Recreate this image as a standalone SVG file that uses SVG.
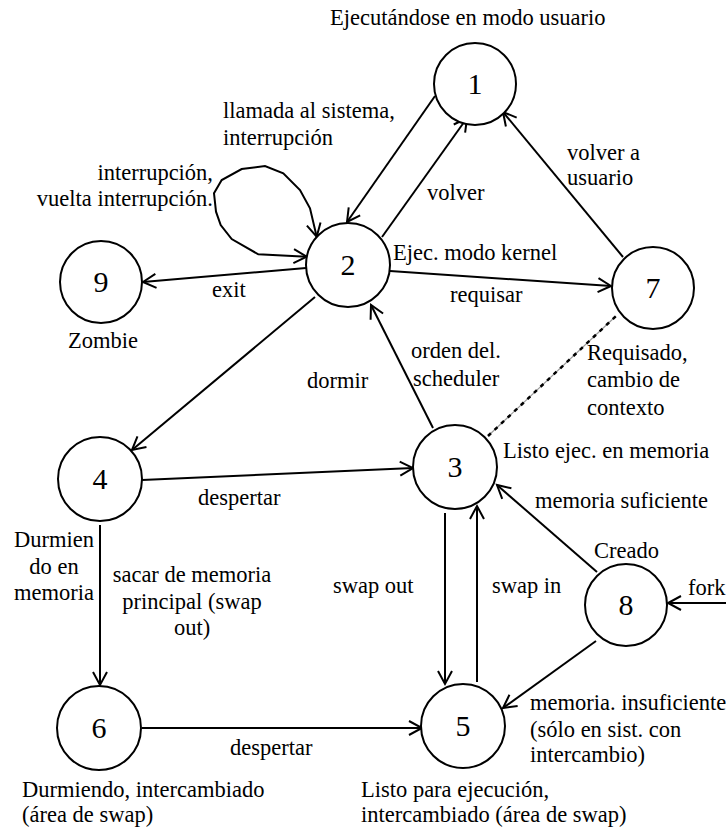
<svg xmlns="http://www.w3.org/2000/svg" width="726" height="828" viewBox="0 0 726 828">
  <style>
    .node circle { fill: #ffffff; stroke: #000000; stroke-width: 2; }
    .node text { font-family: "Liberation Serif", "Times New Roman", serif; font-size: 30px; text-anchor: middle; fill: #000000; }
    .lbl { font-family: "Liberation Serif", "Times New Roman", serif; font-size: 22.5px; fill: #000000; }
    .mid { text-anchor: middle; }
    .end { text-anchor: end; }
    .edge { fill: none; stroke: #000000; stroke-width: 2; marker-end: url(#arrow); }
  </style>
  <defs>
    <marker id="arrow" viewBox="0 0 14 16" refX="13" refY="8" markerWidth="14" markerHeight="16" markerUnits="userSpaceOnUse" orient="auto-start-reverse" overflow="visible">
      <path d="M0,1 L13,8 L0,15" fill="none" stroke="#000000" stroke-width="2"/>
    </marker>
  </defs>

  <rect width="726" height="828" fill="#ffffff"/>

  <!-- transitions -->
  <g id="connectors">
    <line class="edge" x1="435" y1="96" x2="347" y2="222"/>
    <line class="edge" x1="382" y1="237" x2="467" y2="118"/>
    <line class="edge" x1="623" y1="257" x2="503" y2="112"/>
    <polyline class="edge" style="marker-start: url(#arrow)" points="306.7,256.7 258.3,254.3 231.7,239 220.7,225 216,211.7 214,193.3 221.7,180 241.7,169 265,166 283.3,173.3 300,190 310,208.3 316.7,236.7"/>
    <line class="edge" x1="306" y1="268" x2="143" y2="282"/>
    <line class="edge" x1="390" y1="271" x2="611" y2="286"/>
    <line class="edge" x1="315" y1="297" x2="132" y2="450"/>
    <line class="edge" x1="433" y1="428" x2="371" y2="305"/>
    <!-- dotted context switch line 3 - 7 -->
    <line x1="488" y1="436" x2="616" y2="316" stroke="#9a9a9a" stroke-width="1.2"/>
    <line x1="488" y1="436" x2="616" y2="316" stroke="#000000" stroke-width="2.5" stroke-dasharray="4 5"/>
    <line class="edge" x1="142" y1="480" x2="413" y2="468"/>
    <line class="edge" x1="100" y1="525" x2="100" y2="685"/>
    <line class="edge" x1="445" y1="513" x2="445" y2="684"/>
    <line class="edge" x1="477" y1="682" x2="477" y2="506"/>
    <line class="edge" x1="142" y1="728" x2="422" y2="728"/>
    <line class="edge" x1="597" y1="572" x2="497" y2="485"/>
    <line class="edge" x1="596" y1="641" x2="503" y2="708"/>
    <line class="edge" x1="726" y1="603" x2="668" y2="603"/>
  </g>

  <!-- states -->
  <g id="n1" class="node"><circle cx="475" cy="84" r="41"/><text x="475" y="94">1</text></g>
  <g id="n2" class="node"><circle cx="348" cy="265" r="42"/><text x="348" y="275">2</text></g>
  <g id="n9" class="node"><circle cx="101" cy="282" r="41"/><text x="101" y="292">9</text></g>
  <g id="n7" class="node"><circle cx="653" cy="288" r="41"/><text x="653" y="298">7</text></g>
  <g id="n3" class="node"><circle cx="455" cy="467" r="42"/><text x="455" y="477">3</text></g>
  <g id="n4" class="node"><circle cx="100" cy="479" r="42"/><text x="100" y="489">4</text></g>
  <g id="n8" class="node"><circle cx="626" cy="605" r="41"/><text x="626" y="615">8</text></g>
  <g id="n6" class="node"><circle cx="99" cy="728" r="42"/><text x="99" y="738">6</text></g>
  <g id="n5" class="node"><circle cx="463" cy="726" r="42"/><text x="463" y="736">5</text></g>

  <!-- labels -->
  <g id="labels">
    <text class="lbl" x="330" y="25">Ejecutándose en modo usuario</text>
    <text class="lbl" x="223" y="118">llamada al sistema,</text>
    <text class="lbl" x="223" y="145">interrupción</text>
    <text class="lbl" x="427" y="200">volver</text>
    <text class="lbl end" x="213" y="180">interrupción,</text>
    <text class="lbl end" x="213" y="206">vuelta interrupción.</text>
    <text class="lbl" x="212" y="297">exit</text>
    <text class="lbl" x="68" y="348">Zombie</text>
    <text class="lbl" x="393" y="260">Ejec. modo kernel</text>
    <text class="lbl" x="450" y="302">requisar</text>
    <text class="lbl" x="567" y="160">volver a</text>
    <text class="lbl" x="567" y="185">usuario</text>
    <text class="lbl" x="411" y="358">orden del.</text>
    <text class="lbl" x="413" y="386">scheduler</text>
    <text class="lbl" x="587" y="360">Requisado,</text>
    <text class="lbl" x="587" y="387">cambio de</text>
    <text class="lbl" x="587" y="415">contexto</text>
    <text class="lbl" x="307" y="388">dormir</text>
    <text class="lbl" x="503" y="458">Listo ejec. en memoria</text>
    <text class="lbl" x="535" y="508">memoria suficiente</text>
    <text class="lbl" x="594" y="558">Creado</text>
    <text class="lbl" x="492" y="593">swap in</text>
    <text class="lbl" x="688" y="595">fork</text>
    <text class="lbl" x="198" y="505">despertar</text>
    <text class="lbl mid" x="54" y="547">Durmien</text>
    <text class="lbl mid" x="54" y="574">do en</text>
    <text class="lbl mid" x="54" y="600">memoria</text>
    <text class="lbl mid" x="192" y="582">sacar de memoria</text>
    <text class="lbl mid" x="192" y="609">principal (swap</text>
    <text class="lbl mid" x="192" y="635">out)</text>
    <text class="lbl" x="333" y="593">swap out</text>
    <text class="lbl" x="230" y="755">despertar</text>
    <text class="lbl" x="22" y="797">Durmiendo, intercambiado</text>
    <text class="lbl" x="22" y="822">(área de swap)</text>
    <text class="lbl" x="530" y="710">memoria. insuficiente</text>
    <text class="lbl" x="530" y="737">(sólo en sist. con</text>
    <text class="lbl" x="530" y="762">intercambio)</text>
    <text class="lbl" x="361" y="797">Listo para ejecución,</text>
    <text class="lbl" x="361" y="822">intercambiado (área de swap)</text>
  </g>
</svg>
